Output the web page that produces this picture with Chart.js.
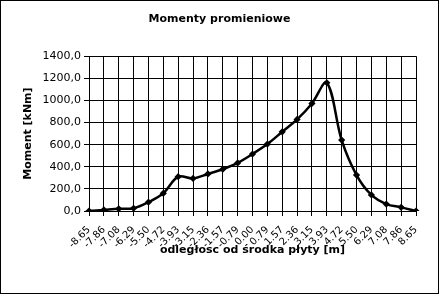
<!DOCTYPE html>
<html>
<head>
<meta charset="utf-8">
<script src="https://cdn.jsdelivr.net/npm/chart.js@4/dist/chart.umd.min.js"></script>
<style>
  html, body { margin: 0; padding: 0; background: #fff; }
  #wrap { width: 439px; height: 294px; position: relative; }
</style>
</head>
<body>
<div id="wrap"><canvas id="chart"></canvas></div>
<script>
// ─── Data ────────────────────────────────────────────────────────
const distances = ['-8.65', '-7.86', '-7.08', '-6.29', '-5.50', '-4.72', '-3.93', '-3.15',
  '-2.36', '-1.57', '-0.79', '0.00', '0.79', '1.57', '2.36', '3.15', '3.93', '4.72',
  '5.50', '6.29', '7.08', '7.86', '8.65'];
const moments = [0, 10, 20, 25, 80, 160, 310, 295, 335, 378, 435, 515, 605, 716,
  828, 973, 1160, 641, 325, 145, 63, 33, 0];
const yTicks = [0, 200, 400, 600, 800, 1000, 1200, 1400];

const FONT = 'DejaVu Sans';

// outer frame round the whole picture
const framePlugin = {
  id: 'frame',
  afterDraw(chart) {
    const ctx = chart.ctx;
    ctx.save();
    ctx.strokeStyle = '#000';
    ctx.lineWidth = 1;
    ctx.strokeRect(0.5, 0.5, chart.width - 1, chart.height - 1);
    ctx.restore();
  }
};

const gridOpts = {
  display: true,
  drawOnChartArea: true,
  drawTicks: true,
  color: '#000',
  lineWidth: 1,
  tickLength: 5,
  tickColor: '#000'
};

new Chart(document.getElementById('chart'), {
  type: 'line',
  data: {
    labels: distances,
    datasets: [{
      data: moments,
      borderColor: '#000',
      backgroundColor: '#000',
      borderWidth: 2.5,
      pointStyle: 'rectRot',
      pointRadius: 3.6,
      pointBorderWidth: 0,
      tension: 0.35,
      fill: false
    }]
  },
  options: {
    responsive: true,
    maintainAspectRatio: false,
    animation: false,
    layout: { padding: 0 },
    plugins: {
      legend: { display: false },
      tooltip: { enabled: false },
      title: {
        display: true,
        text: 'Momenty promieniowe',
        color: '#000',
        font: { family: FONT, size: 11, weight: 'bold' },
        padding: { top: 13, bottom: 30 }
      }
    },
    scales: {
      x: {
        offset: false,
        afterFit: s => { s.height = 83; },
        grid: Object.assign({ offset: false }, gridOpts),
        border: { display: true, color: '#000' },
        ticks: {
          autoSkip: false, minRotation: 45, maxRotation: 45,
          color: '#000', padding: 8,
          font: { family: FONT, size: 10 }
        },
        title: {
          display: true,
          text: 'odległosc od środka płyty [m]',
          color: '#000',
          font: { family: FONT, size: 11, weight: 'bold' },
          padding: { top: 0, bottom: 37 }
        }
      },
      y: {
        min: 0, max: 1400,
        afterFit: s => { s.width = 89; },
        afterBuildTicks: s => { s.ticks = yTicks.map(v => ({ value: v })); },
        grid: gridOpts,
        border: { display: true, color: '#000' },
        ticks: {
          color: '#000', padding: 3,
          font: { family: FONT, size: 11 },
          callback: v => v.toFixed(1).replace('.', ',')
        },
        title: {
          display: true,
          text: 'Moment [kNm]',
          color: '#000',
          font: { family: FONT, size: 11, weight: 'bold' },
          padding: { top: 22, bottom: 0 }
        }
      },
      // empty right-hand strip so the title stays centred on the page
      spacer: {
        type: 'linear',
        position: 'right',
        afterFit: s => { s.width = 23; },
        grid: { display: false },
        border: { display: false },
        ticks: { display: false }
      }
    }
  },
  plugins: [framePlugin]
});
</script>
</body>
</html>
